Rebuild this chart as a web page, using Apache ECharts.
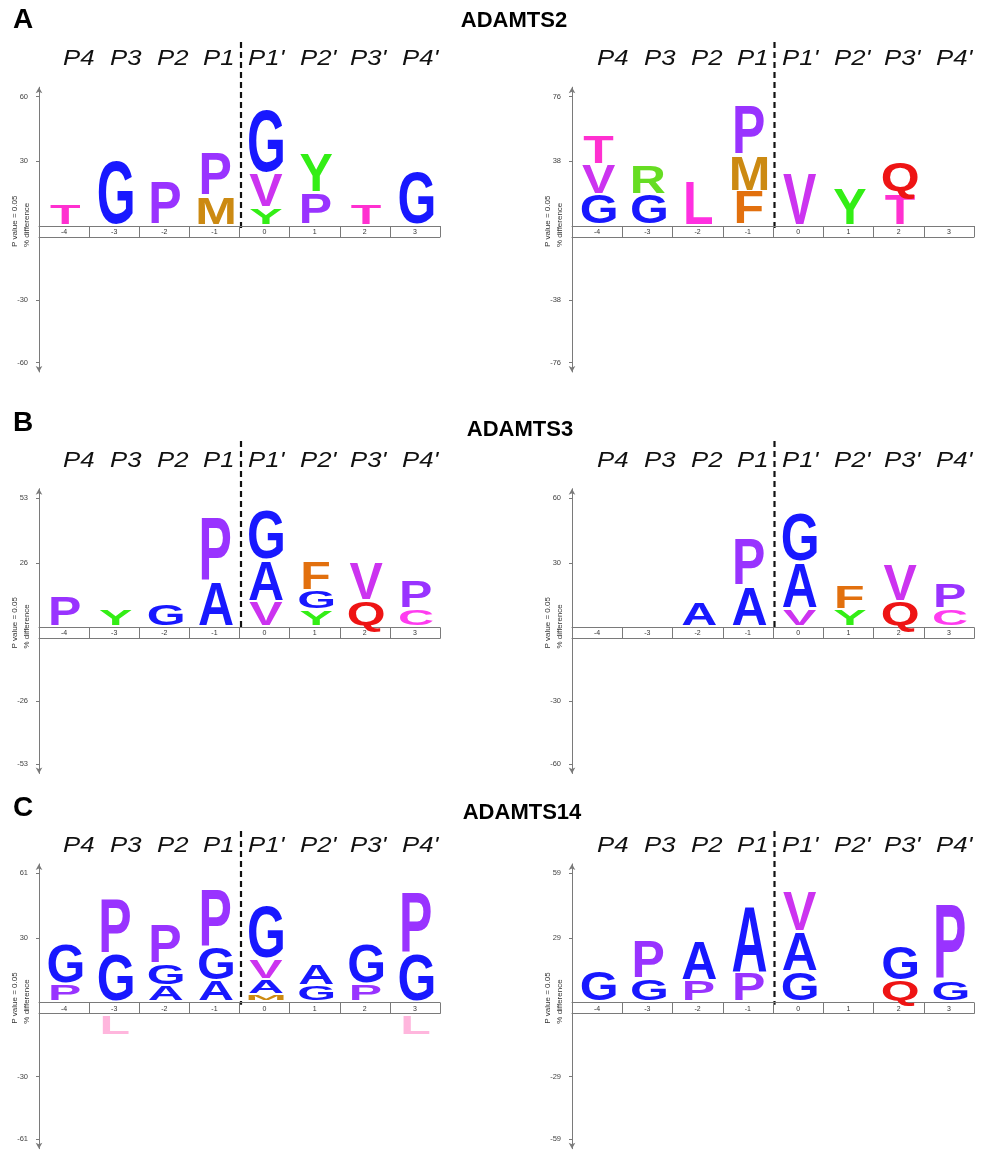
<!DOCTYPE html>
<html>
<head>
<meta charset="utf-8">
<script src="https://cdn.jsdelivr.net/npm/echarts@6/dist/echarts.min.js"></script>
<style>
html,body{margin:0;padding:0;background:#fff;}
#chart{width:987px;height:1151px;}
</style>
</head>
<body>
<div id="chart"></div>
<script>
// ---------------- data ----------------
const positions = ['-4', '-3', '-2', '-1', '0', '1', '2', '3'];
const siteLabels = ['P4', 'P3', 'P2', 'P1', "P1'", "P2'", "P3'", "P4'"];
const enzymes = ['ADAMTS2', 'ADAMTS3', 'ADAMTS14'];
const panelTags = ['A', 'B', 'C'];
const yAxisName = ['P value = 0.05', '% difference'];
// axis maximum (% difference) of each logo: A-left, A-right, B-left, B-right, C-left, C-right
const axisMax = [60, 76, 53, 60, 61, 59];

// columns P4..P4', residues listed bottom -> top as [residue, % difference]
const adamts2Left = [
  [['T', 10]], [['G', 30.5]], [['P', 20]], [['M', 13.3], ['P', 20]],
  [['Y', 8], ['V', 16], ['G', 29.5]], [['P', 15], ['Y', 18]], [['T', 10]], [['G', 25]]
];
const adamts2Right = [
  [['G', 18], ['V', 17.5], ['T', 17.5]], [['G', 18], ['R', 17.3]], [['L', 26.5]],
  [['F', 20], ['M', 21], ['P', 29.5]], [['V', 30.4]], [['Y', 21.6]], [['T', 19], ['Q', 18.3]], []
];
const adamts3Left = [
  [['P', 12.4]], [['Y', 7]], [['G', 9.3]], [['A', 18.3], ['P', 26.5]],
  [['V', 10.4], ['A', 16.7], ['G', 20.9]], [['Y', 6.8], ['G', 7.9], ['F', 11.9]],
  [['Q', 10.6], ['V', 15.4]], [['C', 7.2], ['P', 11.6]]
];
const adamts3Right = [
  [], [], [['A', 11.2]], [['A', 18.6], ['P', 22]],
  [['V', 8.4], ['A', 21.7], ['G', 23]], [['Y', 8], ['F', 11.2]],
  [['Q', 11.9], ['V', 17.1]], [['C', 8.4], ['P', 11.8]]
];
const adamts14Left = [
  [['P', 8.4], ['G', 19]], [['G', 22.6], ['P', 26.4]], [['A', 7.6], ['G', 10.3], ['P', 19]],
  [['A', 10], ['G', 15.8], ['P', 27.6]], [['M', 3.6], ['A', 7.1], ['V', 9.5], ['G', 25.6]],
  [['G', 7.9], ['A', 10]], [['P', 8.4], ['G', 19]], [['G', 22.6], ['P', 29.2]]
];
// under-represented residues (negative % difference)
const adamts14LeftNeg = [[], [['L', -10]], [], [], [], [], [], [['L', -10]]];
const adamts14Right = [
  [['G', 14.3]], [['G', 10.5], ['P', 17.7]], [['P', 9.7], ['A', 18]], [['P', 13.6], ['A', 30.8]],
  [['G', 13.9], ['A', 18.2], ['V', 18.8]], [], [['Q', 9.7], ['G', 16.2]], [['G', 9.7], ['P', 35]]
];

// ---------------- styles / layout ----------------
const letterColors = {
  G: '#1818ff', A: '#1818ff', P: '#9933ff', V: '#cc33f0', T: '#ff30d0', L: '#ff30e0',
  C: '#ff3cf0', Y: '#33ee15', R: '#66dd22', M: '#cc8a12', F: '#e2700e', Q: '#ee1414'
};
const NEG_COLOR = '#ffb6dd';
const AXIS_C = '#7a7a7a';
const GLYPH_FONT = 'bold 100px "Liberation Sans", Arial, sans-serif';
const GLYPH_SX = 0.5;
const POS_H = 129.3, NEG_H = 125.5, EXT = 9.5, BOX_H = 11;

const panels = [
  { stacks: adamts2Left, neg: null, max: axisMax[0], left: 39, width: 401, boxTop: 226 },
  { stacks: adamts2Right, neg: null, max: axisMax[1], left: 572, width: 402, boxTop: 226 },
  { stacks: adamts3Left, neg: null, max: axisMax[2], left: 39, width: 401, boxTop: 627.5 },
  { stacks: adamts3Right, neg: null, max: axisMax[3], left: 572, width: 402, boxTop: 627.5 },
  { stacks: adamts14Left, neg: adamts14LeftNeg, max: axisMax[4], left: 39, width: 401, boxTop: 1002.7 },
  { stacks: adamts14Right, neg: null, max: axisMax[5], left: 572, width: 402, boxTop: 1002.7 }
];
const rowLayout = [
  { tagY: 20, titleY: 21, titleX: 514, siteY: 59, dashTop: 42 },
  { tagY: 423, titleY: 430, titleX: 520, siteY: 461, dashTop: 441 },
  { tagY: 808, titleY: 813, titleX: 522, siteY: 846, dashTop: 831 }
];
const siteOffsets = [24, 71, 118, 164, 209, 261, 311, 363];

// ---------------- glyph metrics ----------------
const mctx = document.createElement('canvas').getContext('2d');
const metricCache = {};
function glyphMetrics(ch) {
  if (metricCache[ch]) return metricCache[ch];
  mctx.font = GLYPH_FONT;
  mctx.textAlign = 'center';
  mctx.textBaseline = 'middle';
  const m = mctx.measureText(ch);
  mctx.textBaseline = 'alphabetic';
  const a = mctx.measureText(ch);
  const r = {
    left: -m.actualBoundingBoxLeft, right: m.actualBoundingBoxRight,
    top: -m.actualBoundingBoxAscent, bottom: m.actualBoundingBoxDescent,
    tail: a.actualBoundingBoxDescent
  };
  metricCache[ch] = r;
  return r;
}

function makeRender(items, negative) {
  return function (params, api) {
    const it = items[params.dataIndex];
    const p0 = api.coord([it.value[0], it.value[1]]);
    const p1 = api.coord([it.value[0], it.value[2]]);
    let inkTop, inkBot;
    if (!negative) { inkBot = p0[1] - 2.3; inkTop = p1[1]; }
    else { inkTop = p0[1] + 3; inkBot = p1[1]; }
    if (inkBot - inkTop < 1) return null;
    const m = glyphMetrics(it.letter);
    const fitBottom = m.tail > 3 ? m.bottom - m.tail : m.bottom;
    const sy = (inkBot - inkTop) / (fitBottom - m.top);
    const sx = GLYPH_SX;
    const xc = p0[0] + 1.5;
    return {
      type: 'text',
      x: xc - sx * (m.left + m.right) / 2,
      y: inkTop - sy * m.top,
      scaleX: sx,
      scaleY: sy,
      silent: true,
      style: {
        text: it.letter, x: 0, y: 0, font: GLYPH_FONT,
        fill: negative ? NEG_COLOR : letterColors[it.letter],
        align: 'center', verticalAlign: 'middle'
      }
    };
  };
}

const option = {
  animation: false,
  backgroundColor: '#ffffff',
  grid: [], xAxis: [], yAxis: [], series: [], graphic: []
};

panels.forEach((p, i) => {
  const g = option.grid.length;
  const M = p.max;
  option.grid.push({ left: p.left, width: p.width, top: p.boxTop - POS_H - EXT, height: POS_H + EXT, outerBoundsMode: 'none' });
  option.grid.push({ left: p.left, width: p.width, top: p.boxTop + BOX_H, height: NEG_H + EXT, outerBoundsMode: 'none' });
  option.xAxis.push({
    gridIndex: g, type: 'category', data: positions, position: 'bottom',
    axisLine: { onZero: false, lineStyle: { color: AXIS_C, width: 1 } },
    axisTick: { show: true, interval: 0, length: BOX_H, lineStyle: { color: AXIS_C } },
    axisLabel: { interval: 0, fontSize: 7, color: '#333', margin: 2.5, fontFamily: '"Liberation Sans", Arial' },
    splitLine: { show: false }
  });
  option.xAxis.push({
    gridIndex: g + 1, type: 'category', data: positions, position: 'top',
    axisLine: { onZero: false, lineStyle: { color: AXIS_C, width: 1 } },
    axisTick: { show: false }, axisLabel: { show: false }, splitLine: { show: false }
  });
  const fmt = v => String(Math.trunc(v));
  option.yAxis.push({
    gridIndex: g, type: 'value', min: 0, max: M * (POS_H + EXT) / POS_H,
    axisLine: { show: true, onZero: false, symbol: ['none', 'arrow'], symbolSize: [5, 6], lineStyle: { color: AXIS_C } },
    axisTick: { show: true, customValues: [M / 2, M], length: 3, lineStyle: { color: AXIS_C } },
    axisLabel: { customValues: [M / 2, M], formatter: fmt, fontSize: 7.5, color: '#444', margin: 11, fontFamily: '"Liberation Sans", Arial' },
    splitLine: { show: false }
  });
  option.yAxis.push({
    gridIndex: g + 1, type: 'value', min: -M * (NEG_H + EXT) / NEG_H, max: 0,
    axisLine: { show: true, onZero: false, symbol: ['arrow', 'none'], symbolSize: [5, 6], lineStyle: { color: AXIS_C } },
    axisTick: { show: true, customValues: [-M, -M / 2], length: 3, lineStyle: { color: AXIS_C } },
    axisLabel: { customValues: [-M, -M / 2], formatter: fmt, fontSize: 7.5, color: '#444', margin: 11, fontFamily: '"Liberation Sans", Arial' },
    splitLine: { show: false }
  });

  const items = [];
  p.stacks.forEach((col, c) => {
    let cum = 0;
    col.forEach(([L, v]) => { items.push({ value: [c, cum, cum + v], letter: L }); cum += v; });
  });
  option.series.push({
    type: 'custom', xAxisIndex: g, yAxisIndex: g, silent: true,
    data: items.map(d => d.value), encode: { x: 0, y: [1, 2] },
    renderItem: makeRender(items, false)
  });
  if (p.neg) {
    const nItems = [];
    p.neg.forEach((col, c) => {
      let cum = 0;
      col.forEach(([L, v]) => { nItems.push({ value: [c, cum, cum + v], letter: L }); cum += v; });
    });
    option.series.push({
      type: 'custom', xAxisIndex: g + 1, yAxisIndex: g + 1, silent: true,
      data: nItems.map(d => d.value), encode: { x: 0, y: [1, 2] },
      renderItem: makeRender(nItems, true)
    });
  }

  const row = rowLayout[Math.floor(i / 2)];
  // site labels
  siteLabels.forEach((s, k) => {
    option.graphic.push({
      type: 'text', x: p.left + siteOffsets[k] + (i % 2), y: row.siteY, scaleX: 1.17, silent: true,
      style: { text: s, font: 'italic 22px "Liberation Sans", Arial', fill: '#111', align: 'left', verticalAlign: 'middle' }
    });
  });
  // cleavage site dashed line
  const xDash = p.left + p.width / 2 + 1.5;
  option.graphic.push({
    type: 'line', silent: true,
    shape: { x1: xDash, y1: row.dashTop, x2: xDash, y2: p.boxTop + 2 },
    style: { stroke: '#111', lineWidth: 2.2, lineDash: [6, 4] }
  });
  // y-axis name
  yAxisName.forEach((t, k) => {
    option.graphic.push({
      type: 'text', x: p.left - 24 + k * 12, y: p.boxTop + 21, rotation: Math.PI / 2, silent: true,
      style: { text: t, font: '8px "Liberation Sans", Arial', fill: '#333', align: 'left', verticalAlign: 'middle' }
    });
  });
});

rowLayout.forEach((row, r) => {
  option.graphic.push({
    type: 'text', x: 13, y: row.tagY, silent: true,
    style: { text: panelTags[r], font: 'bold 28px "Liberation Sans", Arial', fill: '#000', align: 'left', verticalAlign: 'middle' }
  });
  option.graphic.push({
    type: 'text', x: row.titleX, y: row.titleY, silent: true,
    style: { text: enzymes[r], font: 'bold 22px "Liberation Sans", Arial', fill: '#000', align: 'center', verticalAlign: 'middle' }
  });
});

const chart = echarts.init(document.getElementById('chart'), null, { renderer: 'canvas' });
chart.setOption(option);
</script>
</body>
</html>
